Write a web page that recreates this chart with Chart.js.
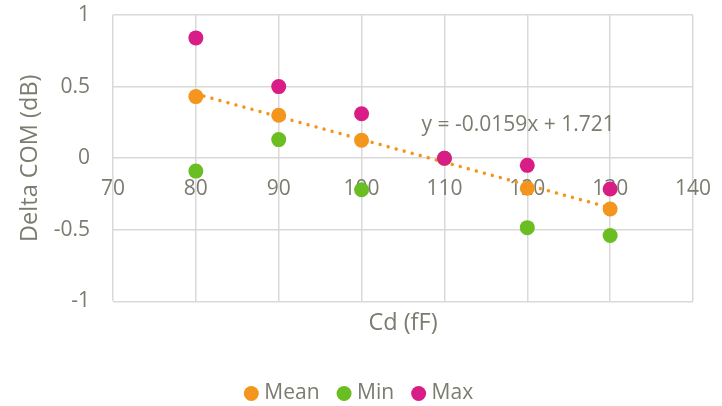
<!DOCTYPE html>
<html>
<head>
<meta charset="utf-8">
<script src="https://cdn.jsdelivr.net/npm/chart.js@4"></script>
<style>
  html, body { margin: 0; padding: 0; background: #fff; overflow: hidden; }
  #clip { width: 722px; height: 406px; overflow: hidden; }
  #wrap { width: 722px; height: 414px; }
</style>
</head>
<body>
<div id="clip"><div id="wrap"><canvas id="chart"></canvas></div></div>
<script>
// data
const cdValues = [80, 90, 100, 110, 120, 130];
const meanValues = [0.43, 0.30, 0.125, 0, -0.21, -0.355];
const minValues = [-0.09, 0.13, -0.22, 0, -0.485, -0.54];
const maxValues = [0.84, 0.50, 0.31, 0, -0.05, -0.215];

// linear trendline of the mean, as printed on the chart
const trendSlope = -0.0159;
const trendIntercept = 1.721;
const trendLabel = 'y = -0.0159x + 1.721';
const trendLabelAt = { x: 118.9, y: 0.23 };

const textColor = '#7b7b70';
const gridColor = '#d9d9d9';

Chart.defaults.font.family = "'Open Sans', sans-serif";
Chart.defaults.color = textColor;

function points(ys) {
  return cdValues.map((x, i) => ({ x: x, y: ys[i] }));
}

const trendX = [cdValues[0], cdValues[cdValues.length - 1]];
const trendPoints = trendX.map(x => ({ x: x, y: trendSlope * x + trendIntercept }));

const equationLabel = {
  id: 'equationLabel',
  afterDatasetsDraw(chart) {
    const ctx = chart.ctx;
    const px = chart.scales.x.getPixelForValue(trendLabelAt.x);
    const py = chart.scales.y.getPixelForValue(trendLabelAt.y);
    ctx.save();
    ctx.font = "21px 'Open Sans', sans-serif";
    ctx.fillStyle = textColor;
    ctx.textAlign = 'center';
    ctx.textBaseline = 'middle';
    ctx.fillText(trendLabel, px, py);
    ctx.restore();
  }
};

chart = new Chart(document.getElementById('chart'), {
  type: 'scatter',
  data: {
    datasets: [
      { label: 'Mean', data: points(meanValues), backgroundColor: '#f4961e', order: 3 },
      { label: 'Min', data: points(minValues), backgroundColor: '#6bbe22', order: 2 },
      { label: 'Max', data: points(maxValues), backgroundColor: '#d81e86', order: 1 },
      {
        type: 'line',
        label: 'trend',
        data: trendPoints,
        borderColor: '#f4961e',
        borderWidth: 3.5,
        borderDash: [0.01, 8.3],
        borderCapStyle: 'round',
        pointRadius: 0,
        fill: false,
        order: 4
      }
    ]
  },
  options: {
    responsive: true,
    maintainAspectRatio: false,
    animation: false,
    elements: { point: { radius: 7.5, borderWidth: 0, hoverRadius: 7.5 } },
    layout: { padding: { left: 0, right: 0, top: 15, bottom: 0 } },
    scales: {
      x: {
        type: 'linear',
        position: 'bottom',
        min: 70, max: 140,
        ticks: { display: false, stepSize: 10 },
        grid: { color: gridColor, lineWidth: 1.5, drawTicks: false },
        border: { display: false },
        title: { display: true, text: 'Cd (fF)', font: { size: 23.5 }, padding: { top: 8, bottom: 23.4 } }
      },
      x2: {
        type: 'linear',
        position: { y: 0 },
        min: 70, max: 140,
        z: 1,
        ticks: { stepSize: 10, font: { size: 21 }, padding: 10, maxRotation: 0 },
        grid: { display: false },
        border: { display: false }
      },
      y: {
        min: -1, max: 1,
        ticks: { stepSize: 0.5, font: { size: 21 }, padding: 23, callback: v => String(v) },
        grid: { color: gridColor, lineWidth: 1.5, drawTicks: false },
        border: { display: false },
        title: { display: true, text: 'Delta COM (dB)', font: { size: 23.5 }, padding: { top: 16, bottom: 0 } },
        afterFit(scale) {
          scale.width = 113;
          scale.paddingTop = 0;
          scale.paddingBottom = 0;
        }
      },
      // empty right margin
      yRight: {
        position: 'right',
        min: -1, max: 1,
        ticks: { display: false },
        grid: { display: false },
        border: { display: false },
        afterFit(scale) {
          scale.width = 29;
          scale.paddingTop = 0;
          scale.paddingBottom = 0;
        }
      }
    },
    plugins: {
      legend: {
        position: 'bottom',
        labels: {
          usePointStyle: true,
          pointStyle: 'circle',
          boxWidth: 5,
          boxHeight: 10.6,
          padding: 22,
          font: { size: 21 },
          filter: item => item.text !== 'trend',
          sort: (a, b) => a.datasetIndex - b.datasetIndex
        }
      },
      tooltip: { enabled: false }
    }
  },
  plugins: [equationLabel]
});
</script>
</body>
</html>
